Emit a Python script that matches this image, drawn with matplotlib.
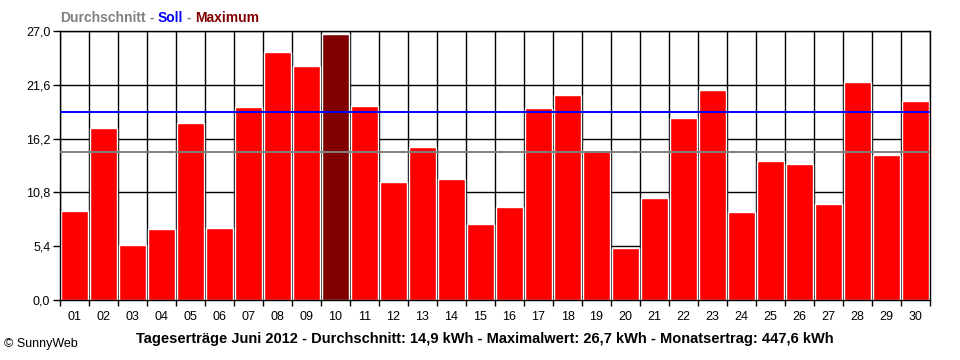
import matplotlib
matplotlib.use("Agg")
import matplotlib.pyplot as plt
import numpy as np

plt.rcParams['font.family'] = ['Liberation Sans', 'DejaVu Sans']

# daily yield June 2012 (kWh)
days = ["%02d" % d for d in range(1, 31)]
ertrag = [8.9, 17.3, 5.5, 7.1, 17.8, 7.2, 19.4, 24.9, 23.5, 26.7,
          19.5, 11.8, 15.4, 12.1, 7.6, 9.3, 19.3, 20.6, 15.1, 5.2,
          10.2, 18.3, 21.1, 8.8, 14.0, 13.7, 9.6, 21.9, 14.6, 20.0]
durchschnitt = 14.9
soll = 18.9
yticks = [0.0, 5.4, 10.8, 16.2, 21.6, 27.0]

x = np.arange(len(days))
imax = int(np.argmax(ertrag))
colors = ['#FF0000'] * len(days)
colors[imax] = '#800000'

fig = plt.figure(figsize=(9.6, 3.6), dpi=100)
ax = fig.add_axes([60 / 960, 1 - 300 / 360, 870 / 960, 269 / 360])

ax.bar(x, ertrag, width=0.95, color=colors, edgecolor='white', linewidth=1.0, zorder=2)
ax.axhline(durchschnitt, color='#808080', linewidth=1.4, zorder=3)
ax.axhline(soll, color='#0000FF', linewidth=1.4, zorder=3)

ax.set_xlim(-0.5, len(days) - 0.5)
ax.set_ylim(0, 27.0)
ax.set_yticks(yticks)
ax.set_yticklabels([("%.1f" % v).replace('.', ',') for v in yticks], fontsize=9)
ax.set_xticks(x)
ax.set_xticklabels(days, fontsize=9)
ax.set_xticks(np.arange(-0.5, len(days)), minor=True)
ax.tick_params(axis='x', which='major', length=0, pad=8)
ax.tick_params(axis='x', which='minor', length=4, width=1, direction='out')
ax.tick_params(axis='y', length=5, width=1, direction='out', pad=2)

ax.grid(True, axis='y', which='major', color='black', linewidth=1.0, zorder=1)
ax.grid(True, axis='x', which='minor', color='black', linewidth=1.0, zorder=1)
ax.set_axisbelow(True)
for s in ax.spines.values():
    s.set_color('black')
    s.set_linewidth(1.0)

# multicolored legend line at top left
fig.canvas.draw()
renderer = fig.canvas.get_renderer()
parts = [("Durchschnitt", '#808080'), (" - ", '#808080'), ("Soll", '#0000FF'),
         (" - ", '#808080'), ("Maximum", '#800000')]
xpos = 60 / 960
for txt, c in parts:
    t = fig.text(xpos, 1 - 18 / 360, txt, color=c, fontsize=10, fontweight='bold',
                 va='center', ha='left')
    bb = t.get_window_extent(renderer)
    xpos += bb.width / 960

fig.text(485 / 960, 1 - 339 / 360,
         "Tageserträge Juni 2012 - Durchschnitt: 14,9 kWh - Maximalwert: 26,7 kWh - Monatsertrag: 447,6 kWh",
         fontsize=10.5, fontweight='bold', ha='center', va='center')
fig.text(4 / 960, 1 - 344 / 360, "© SunnyWeb", fontsize=9, ha='left', va='center')

fig.savefig("out.png", dpi=100)
